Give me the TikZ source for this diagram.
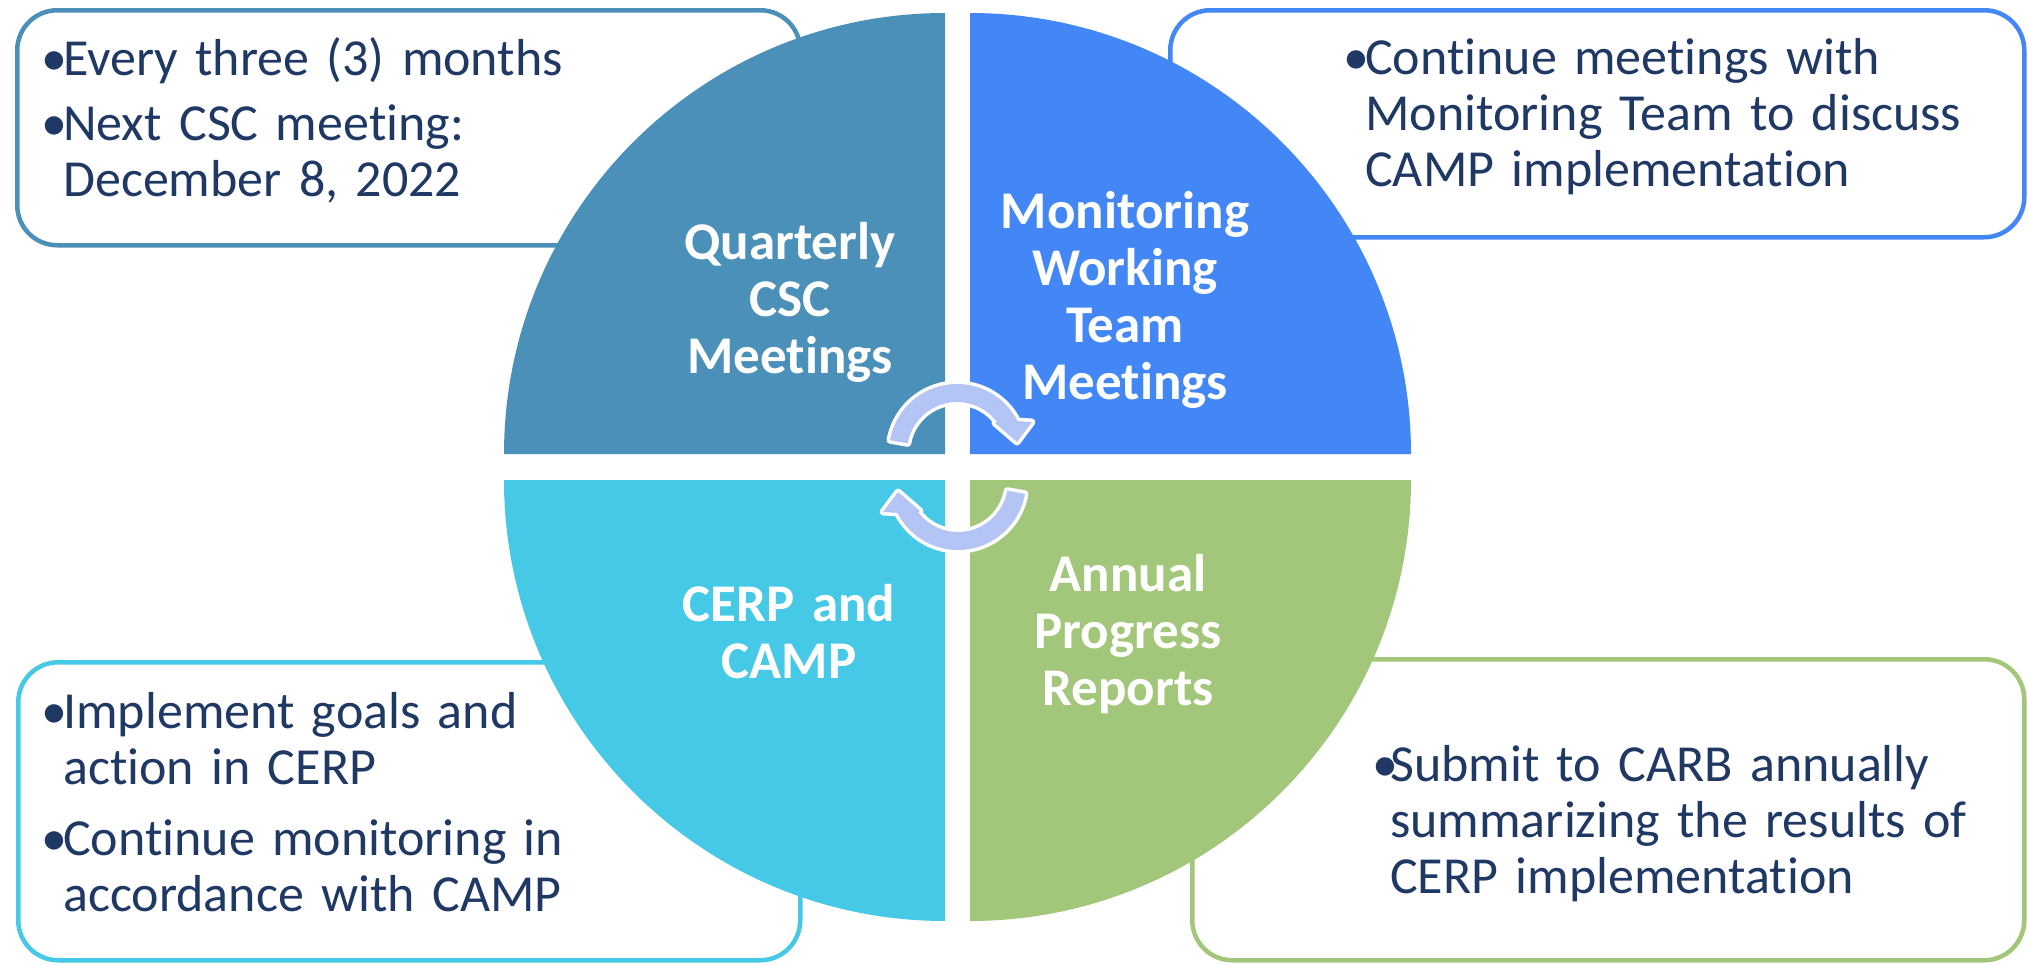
\documentclass[tikz,border=0pt]{standalone}
\usepackage{fontspec}
\setmainfont{Carlito}[RawFeature={-liga;-clig;-dlig;-calt}]
\definecolor{qA}{RGB}{74,144,184}
\definecolor{qB}{RGB}{66,135,245}
\definecolor{qC}{RGB}{69,201,230}
\definecolor{qD}{RGB}{163,199,122}
\definecolor{navy}{RGB}{31,56,100}
\definecolor{lav}{RGB}{180,196,245}
\newlength{\mybulw}\setlength{\mybulw}{22pt}
\newcommand{\mybul}{\makebox[\mybulw][l]{•}}
\newcommand{\myind}{\hspace*{\mybulw}}
\begin{document}
\begin{tikzpicture}[x=1pt,y=-1pt,
  infobox/.style={draw=#1, line width=4.5pt, rounded corners=40pt, fill=white, inner sep=0pt, anchor=north west},
  boxtext/.style={text=navy, font=\fontsize{52}{56}\selectfont, inner sep=0pt, anchor=base west, text width=640pt, align=left},
  qlabel/.style={text=white, font=\fontsize{53}{57}\selectfont\bfseries, inner sep=0pt, anchor=base, text width=320pt, align=center},
  cyc/.style={fill=lav, preaction={draw=white, line width=7pt, line join=round}}
]
\useasboundingbox (0,0) rectangle (2028,964);
\fill[white] (0,0) rectangle (2028,964);

% information boxes
\node[infobox=qA, minimum width=783pt, minimum height=235pt] (boxA) at (15,8) {};
\node[infobox=qB, minimum width=854pt, minimum height=227pt] (boxB) at (1168,8) {};
\node[infobox=qC, minimum width=782pt, minimum height=298pt] (boxC) at (16,660) {};
\node[infobox=qD, minimum width=832pt, minimum height=301pt] (boxD) at (1190,657) {};

% quadrants
\fill[qA] (945,454) -- (945,13) arc[start angle=-90, end angle=-180, radius=441] -- cycle;
\fill[qB] (970,454) -- (970,13) arc[start angle=-90, end angle=0, radius=441] -- cycle;
\fill[qC] (945,480) -- (945,921) arc[start angle=90, end angle=180, radius=441] -- cycle;
\fill[qD] (970,480) -- (970,921) arc[start angle=90, end angle=0, radius=441] -- cycle;

% quadrant labels
\node[qlabel] (lA) at (790,259) {Quarterly\\CSC\\Meetings};
\node[qlabel] (lB) at (1125,228) {Monitoring\\Working\\Team\\Meetings};
\node[qlabel] (lC) at (789,621) {CERP and\\CAMP};
\node[qlabel] (lD) at (1128,591) {Annual\\Progress\\Reports};

% cycle arrows
\path[cyc] ([shift={(-170:68)}]957,452) arc[start angle=-170, end angle=-27, radius=68]
  -- (1032,422) -- (1017,442) -- (995,423)
  -- ([shift={(-36.9:50)}]957,452) arc[start angle=-36.9, end angle=-170, radius=50] -- cycle;
\begin{scope}[rotate around={180:(957.5,467)}]
\path[cyc] ([shift={(-170:68)}]957,452) arc[start angle=-170, end angle=-27, radius=68]
  -- (1032,422) -- (1017,442) -- (995,423)
  -- ([shift={(-36.9:50)}]957,452) arc[start angle=-36.9, end angle=-170, radius=50] -- cycle;
\end{scope}

% box texts
\node[boxtext] (tA) at (41,75) {\mybul Every three (3) months\\[9pt]\mybul Next CSC meeting:\\\myind December 8, 2022};
\node[boxtext] (tB) at (1343,74) {\mybul Continue meetings with\\\myind Monitoring Team to discuss\\\myind CAMP implementation};
\node[boxtext] (tC) at (41,728) {\mybul Implement goals and\\\myind action in CERP\\[15pt]\mybul Continue monitoring in\\\myind accordance with CAMP};
\node[boxtext] (tD) at (1372,781) {\makebox[18pt][l]{•}Submit to CARB annually\\\hspace*{18pt}summarizing the results of\\\hspace*{18pt}CERP implementation};
\end{tikzpicture}
\end{document}
